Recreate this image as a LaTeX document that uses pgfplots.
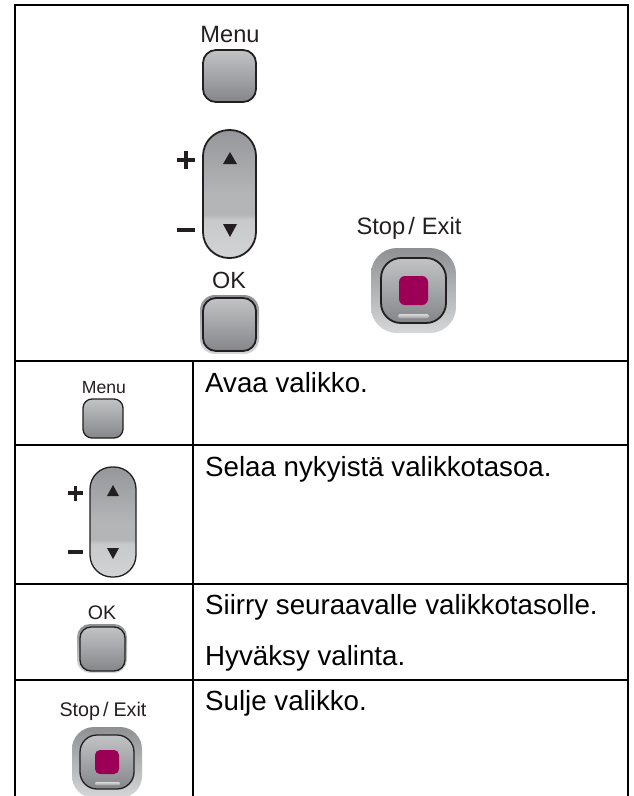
\documentclass[border=0pt]{standalone}
\usepackage{pgfplots}
\pgfplotsset{compat=1.18}
\usepackage{fontspec}
\setmainfont{Liberation Sans}
\definecolor{rb}{HTML}{D2D3D5}
\definecolor{rm2}{HTML}{C8C9CB}
\definecolor{rm1}{HTML}{B4B5B7}
\definecolor{rt2}{HTML}{96979A}
\definecolor{rt}{HTML}{8E8F91}
\pgfdeclareverticalshading{rocker}{100bp}{color(0bp)=(rb);color(25bp)=(rb);color(40bp)=(rm2);color(42bp)=(rm1);color(50bp)=(rm1);color(75bp)=(rt2);color(85bp)=(rt);color(100bp)=(rt)}
\definecolor{btop}{HTML}{C2C3C5}
\definecolor{bbot}{HTML}{85868A}
\definecolor{htop}{HTML}{8F9092}
\definecolor{hbot}{HTML}{D6D7D9}
\definecolor{mag}{HTML}{9B0056}
\definecolor{ink}{HTML}{231F20}
\newcommand{\lbl}[3]{\node[anchor=base,inner sep=0pt,text=ink] at (axis cs:#1) {\fontsize{#2}{#2}\selectfont #3};}
\newcommand{\txt}[2]{\node[anchor=base west,inner sep=0pt,text=black] at (axis cs:#1) {\fontsize{27.7}{27.7}\selectfont #2};}
\begin{document}
\begin{tikzpicture}
\path[use as bounding box] (0,0) rectangle (634pt,796pt);
\begin{axis}[scale only axis,width=634pt,height=796pt,xmin=0,xmax=634,ymin=0,ymax=796,y dir=reverse,hide axis,clip=true,
 every axis plot/.append style={mark=none}]
% big Menu
\addplot[top color=btop,bottom color=bbot,draw=ink,line width=1.8pt,rounded corners=13pt] coordinates {(230,50)(256,50)(256,102)(203,102)(203,50)(230,50)};
% big rocker
\addplot[shade,shading=rocker,draw=ink,line width=1.8pt,rounded corners=26pt] coordinates {(230,130)(256,130)(256,258)(203,258)(203,130)(230,130)};
\addplot[fill=ink,draw=none] coordinates {(230,152)(237,164)(223,164)(230,152)};
\addplot[fill=ink,draw=none] coordinates {(230,237)(237,224)(223,224)(230,237)};
\addplot[ink,line width=4.5pt] coordinates {(177,160)(195,160)};
\addplot[ink,line width=4.5pt] coordinates {(186,151)(186,169)};
\addplot[ink,line width=4.5pt] coordinates {(177,230)(195,230)};
% big OK
\addplot[top color=htop,bottom color=hbot,draw=none,rounded corners=15pt] coordinates {(230,295)(259,295)(259,354)(200,354)(200,295)(230,295)};
\addplot[top color=btop,bottom color=bbot,draw=ink,line width=1.8pt,rounded corners=13pt] coordinates {(230,298)(256,298)(256,351)(203,351)(203,298)(230,298)};
% big Stop
\addplot[top color=htop,bottom color=hbot,draw=none,rounded corners=26pt] coordinates {(413,248)(456,248)(456,333)(371,333)(371,248)(413,248)};
\addplot[top color=btop,bottom color=bbot,draw=ink,line width=1.8pt,rounded corners=20pt] coordinates {(413,258)(446,258)(446,323)(381,323)(381,258)(413,258)};
\addplot[fill=mag,draw=none,rounded corners=6pt] coordinates {(413,276)(428,276)(428,305)(399,305)(399,276)(413,276)};
\addplot[top color=white!85!black,bottom color=white!65!black,draw=none,rounded corners=1.5pt] coordinates {(413,314)(429,314)(429,318)(398,318)(398,314)(413,314)};
% small Menu
\addplot[top color=btop,bottom color=bbot,draw=ink,line width=1.3pt,rounded corners=9pt] coordinates {(103,399)(123,399)(123,438)(83,438)(83,399)(103,399)};
% small rocker
\addplot[shade,shading=rocker,draw=ink,line width=1.3pt,rounded corners=22pt] coordinates {(113,467)(136,467)(136,577)(90,577)(90,467)(113,467)};
\addplot[fill=ink,draw=none] coordinates {(113,485)(119,496)(107,496)(113,485)};
\addplot[fill=ink,draw=none] coordinates {(113,559)(119,548)(107,548)(113,559)};
\addplot[ink,line width=3.2pt] coordinates {(68,493)(83,493)};
\addplot[ink,line width=3.2pt] coordinates {(75.5,485.5)(75.5,500.5)};
\addplot[ink,line width=3.2pt] coordinates {(68,552)(83,552)};
% small OK
\addplot[top color=htop,bottom color=hbot,draw=none,rounded corners=13pt] coordinates {(102,624)(127,624)(127,673)(77,673)(77,624)(102,624)};
\addplot[top color=btop,bottom color=bbot,draw=ink,line width=1.3pt,rounded corners=11pt] coordinates {(102,627)(125,627)(125,671)(80,671)(80,627)(102,627)};
% small Stop
\addplot[top color=htop,bottom color=hbot,draw=none,rounded corners=22pt] coordinates {(107,727)(142,727)(142,798)(72,798)(72,727)(107,727)};
\addplot[top color=btop,bottom color=bbot,draw=ink,line width=1.3pt,rounded corners=17pt] coordinates {(107,735)(134,735)(134,789)(80,789)(80,735)(107,735)};
\addplot[fill=mag,draw=none,rounded corners=5pt] coordinates {(107,750)(119,750)(119,774)(95,774)(95,750)(107,750)};
\addplot[top color=white!85!black,bottom color=white!65!black,draw=none,rounded corners=1pt] coordinates {(107,782)(120,782)(120,785)(95,785)(95,782)(107,782)};
% table rules
\addplot[black,line width=2.4pt] coordinates {(15,796)(15,5)(628,5)(628,796)};
\addplot[black,line width=2.4pt] coordinates {(15,361)(628,361)};
\addplot[black,line width=2.4pt] coordinates {(15,445)(628,445)};
\addplot[black,line width=2.4pt] coordinates {(15,584)(628,584)};
\addplot[black,line width=2.4pt] coordinates {(15,680)(628,680)};
\addplot[black,line width=2.4pt] coordinates {(193,361)(193,796)};
% labels
\lbl{230,42}{23.6}{Menu}
\lbl{229,288.5}{23.4}{OK}
\lbl{409,234}{23.7}{Stop\kern3pt/\kern7pt Exit}
\lbl{104,393}{17.6}{Menu}
\lbl{102,619}{19.6}{OK}
\lbl{103,716}{19.7}{Stop\kern3pt/\kern5pt Exit}
\txt{205,392}{Avaa valikko.}
\txt{205,476}{Selaa nykyistä valikkotasoa.}
\txt{205,614}{Siirry seuraavalle valikkotasolle.}
\txt{205,665}{Hyväksy valinta.}
\txt{205,710}{Sulje valikko.}
\end{axis}
\end{tikzpicture}
\end{document}
